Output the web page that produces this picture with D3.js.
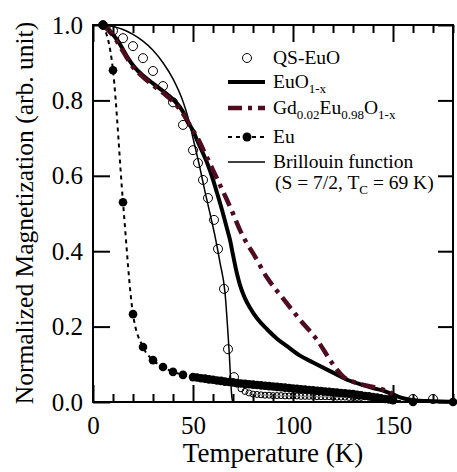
<!DOCTYPE html>
<html>
<head>
  <meta charset="UTF-8">
  <style>
body {
    margin: 0;
    background: #fff;
}
.tick line {
    stroke: #000;
    stroke-width: 2px;
}
  </style>
</head>
<body>

<script src="https://cdn.jsdelivr.net/npm/d3@7"></script>
<script>
  // DATA
  const qsTemp = [5, 10, 15, 20, 25, 30, 35, 40, 45, 50, 52.5, 55, 57.5, 60.5, 62.5, 65.5, 67.5, 70.5,
    72, 74, 76, 78, 80, 82, 84, 86, 88, 90, 92, 94, 96, 98, 100, 102, 104, 106, 108, 110,
    112, 114, 116, 118, 120, 122, 124, 126, 128, 130, 132, 134, 160, 170]
  const qsMag = [1.0, 0.985, 0.965, 0.944, 0.912, 0.878, 0.838, 0.795, 0.735, 0.668, 0.634, 0.589, 0.541, 0.483, 0.406, 0.30, 0.14, 0.066,
    0.048, 0.035, 0.028, 0.024, 0.021, 0.02, 0.019, 0.018, 0.018, 0.017, 0.017, 0.017, 0.016, 0.016, 0.016, 0.016, 0.015, 0.015, 0.015, 0.015,
    0.014, 0.014, 0.014, 0.014, 0.013, 0.013, 0.013, 0.013, 0.012, 0.012, 0.012, 0.012, 0.008, 0.008]

  const euoTemp = [5, 7.5, 10, 12.5, 15, 17.5, 20, 22.5, 25, 30, 35, 40, 45, 47.5, 50, 52, 55, 57, 60, 62, 65, 67,
    68.5, 70, 72, 73.5, 76, 78.5, 82, 87, 92, 97, 103.5, 110, 120, 128, 135, 140, 145, 150, 155, 160, 170, 180]
  const euoMag = [1.0, 0.99, 0.975, 0.957, 0.935, 0.912, 0.893, 0.878, 0.866, 0.845, 0.825, 0.803, 0.77, 0.742, 0.72, 0.695, 0.66, 0.635, 0.59, 0.555, 0.5, 0.46,
    0.43, 0.39, 0.34, 0.31, 0.275, 0.25, 0.222, 0.193, 0.168, 0.148, 0.123, 0.105, 0.078, 0.057, 0.045, 0.037, 0.03, 0.02, 0.01, 0.005, 0.002, 0.0]

  const gdTemp = [5, 10, 15, 20, 25, 30, 35, 40, 45, 50, 52, 56, 60, 64, 67, 70, 73.5, 77, 80, 87, 95, 103.5, 112, 120, 125, 132, 140, 145, 150]
  const gdMag = [1.0, 0.972, 0.93, 0.888, 0.862, 0.84, 0.82, 0.797, 0.765, 0.72, 0.703, 0.66, 0.615, 0.57, 0.536, 0.5, 0.456, 0.42, 0.395, 0.33, 0.275, 0.218, 0.165, 0.1, 0.068, 0.05, 0.04, 0.033, 0.022]

  const euTemp = [5, 10, 15, 20, 25, 30, 35, 40, 45, 50,
    52, 54, 56, 58, 60, 62, 64, 66, 68, 70, 72, 74, 76, 78, 80, 82, 84, 86, 88, 90,
    92, 94, 96, 98, 100, 102, 104, 106, 108, 110, 112, 114, 116, 118, 120, 122, 124, 126, 128, 130,
    132, 134, 136, 138, 140, 142, 144, 146, 148, 150, 160, 180]
  const euMag = [1.0, 0.88, 0.53, 0.233, 0.146, 0.111, 0.093, 0.08, 0.072, 0.066,
    0.065, 0.063, 0.062, 0.06, 0.059, 0.057, 0.056, 0.054, 0.053, 0.052, 0.05, 0.049, 0.048, 0.047, 0.046, 0.045, 0.044, 0.043, 0.042, 0.041,
    0.04, 0.039, 0.038, 0.037, 0.036, 0.035, 0.034, 0.033, 0.032, 0.031, 0.03, 0.029, 0.028, 0.027, 0.026, 0.025, 0.024, 0.023, 0.022, 0.021,
    0.019, 0.018, 0.016, 0.015, 0.013, 0.012, 0.01, 0.008, 0.007, 0.005, 0.0, 0.0]

  const brTemp = [5, 10, 15, 20, 25, 30, 35, 40, 45, 47.5, 50, 53.5, 56, 58.5, 61, 63.5, 66, 68, 69.5, 70, 180]
  const brMag = [1.0, 0.996, 0.988, 0.975, 0.957, 0.933, 0.9, 0.857, 0.797, 0.755, 0.7, 0.62, 0.558, 0.5, 0.44, 0.37, 0.29, 0.14, 0.01, 0.0, 0.0]

  const xTicks = [0, 50, 100, 150]
  const yTicks = [0.0, 0.2, 0.4, 0.6, 0.8, 1.0]

  const gdColor = '#4e0c1e'
  const serif = '"Liberation Serif"'

  const zip = (xs, ys) => xs.map((x, i) => ({t: x, m: ys[i]}))

  function drawChart() {
    const dimensions = {
      width: 457,
      height: 472,
      margin: {top: 25, right: 4, bottom: 70, left: 93},
    }
    dimensions.boundedWidth = dimensions.width - dimensions.margin.left - dimensions.margin.right
    dimensions.boundedHeight = dimensions.height - dimensions.margin.top - dimensions.margin.bottom

    const xScale = d3.scaleLinear().domain([0, 180]).range([0, dimensions.boundedWidth])
    const yScale = d3.scaleLinear().domain([0, 1]).range([dimensions.boundedHeight, 0])

    const svg = d3.select('body').append('svg')
      .attr('width', dimensions.width)
      .attr('height', dimensions.height)

    const bounds = svg.append('g')
      .attr('transform', `translate(${dimensions.margin.left},${dimensions.margin.top})`)

    // axes
    const minor = d3.range(0, 181, 10).filter(d => d % 50 !== 0)
    const clean = g => {
      g.select('.domain').remove()
      g.selectAll('.tick text')
        .style('font-family', serif)
        .style('font-size', '25px')
        .attr('fill', '#000')
    }

    bounds.append('g')
      .attr('transform', `translate(0,${dimensions.boundedHeight})`)
      .call(d3.axisBottom(xScale).tickValues(xTicks).tickSize(-17).tickPadding(14).tickFormat(d3.format('d')))
      .call(clean)
    bounds.append('g')
      .attr('transform', `translate(0,${dimensions.boundedHeight})`)
      .call(d3.axisBottom(xScale).tickValues(minor).tickSize(-8).tickFormat(''))
      .call(clean)
    bounds.append('g')
      .call(d3.axisTop(xScale).tickValues(xTicks).tickSize(-17).tickFormat(''))
      .call(clean)
    bounds.append('g')
      .call(d3.axisTop(xScale).tickValues(minor).tickSize(-8).tickFormat(''))
      .call(clean)
    bounds.append('g')
      .call(d3.axisLeft(yScale).tickValues(yTicks).tickSize(-17).tickPadding(10).tickFormat(d3.format('.1f')))
      .call(clean)
    bounds.append('g')
      .attr('transform', `translate(${dimensions.boundedWidth},0)`)
      .call(d3.axisRight(yScale).tickValues(yTicks).tickSize(-15).tickFormat(''))
      .call(clean)

    const line = d3.line()
      .x(d => xScale(d.t))
      .y(d => yScale(d.m))
      .curve(d3.curveMonotoneX)

    // Brillouin function
    bounds.append('path')
      .attr('d', line(zip(brTemp, brMag)))
      .attr('fill', 'none')
      .attr('stroke', '#000')
      .attr('stroke-width', 1.5)

    // EuO1-x
    bounds.append('path')
      .attr('d', line(zip(euoTemp, euoMag)))
      .attr('fill', 'none')
      .attr('stroke', '#000')
      .attr('stroke-width', 4)

    // Gd doped
    bounds.append('path')
      .attr('d', line(zip(gdTemp, gdMag)))
      .attr('fill', 'none')
      .attr('stroke', gdColor)
      .attr('stroke-width', 4.5)
      .attr('stroke-dasharray', '14,6,4,6')

    // Eu
    const euData = zip(euTemp, euMag)
    bounds.append('path')
      .attr('d', line(euData))
      .attr('fill', 'none')
      .attr('stroke', '#000')
      .attr('stroke-width', 2)
      .attr('stroke-dasharray', '4,4')
    bounds.selectAll('.eu').data(euData).enter().append('circle')
      .attr('cx', d => xScale(d.t))
      .attr('cy', d => yScale(d.m))
      .attr('r', 4.3)
      .attr('fill', '#000')

    // QS-EuO
    bounds.selectAll('.qs').data(zip(qsTemp, qsMag)).enter().append('circle')
      .attr('cx', d => xScale(d.t))
      .attr('cy', d => yScale(d.m))
      .attr('r', d => (d.t > 71 && d.t < 150) ? 3 : 4.5)
      .attr('fill', 'none')
      .attr('stroke', '#000')
      .attr('stroke-width', 1)

    // frame
    bounds.append('rect')
      .attr('width', dimensions.boundedWidth)
      .attr('height', dimensions.boundedHeight)
      .attr('fill', 'none')
      .attr('stroke', '#000')
      .attr('stroke-width', 2)

    // axis titles
    svg.append('text')
      .attr('x', dimensions.margin.left + dimensions.boundedWidth * 0.5)
      .attr('y', 462)
      .attr('text-anchor', 'middle')
      .style('font-family', serif)
      .style('font-size', '27px')
      .text('Temperature (K)')
    svg.append('text')
      .attr('transform', `translate(33,213) rotate(-90)`)
      .attr('text-anchor', 'middle')
      .style('font-family', serif)
      .style('font-size', '25.5px')
      .text('Normalized Magnetization (arb. unit)')

    // legend
    const legend = svg.append('g')
    const lx0 = 228, lx1 = 265, tx = 273
    const legendText = (x, y) => legend.append('text')
      .attr('x', x).attr('y', y)
      .style('font-family', serif)
      .style('font-size', '19.5px')
    const sub = (t, s) => { t.append('tspan').attr('dy', 5).style('font-size', '13px').text(s) }

    legend.append('circle').attr('cx', 247).attr('cy', 58).attr('r', 4.5)
      .attr('fill', 'none').attr('stroke', '#000')
    legendText(tx, 64).text('QS-EuO')

    legend.append('line').attr('x1', lx0).attr('x2', lx1).attr('y1', 82).attr('y2', 82)
      .attr('stroke', '#000').attr('stroke-width', 4)
    const t2 = legendText(tx, 88)
    t2.append('tspan').text('EuO')
    sub(t2, '1-x')

    legend.append('line').attr('x1', lx0).attr('x2', lx1).attr('y1', 108).attr('y2', 108)
      .attr('stroke', gdColor).attr('stroke-width', 4.5).attr('stroke-dasharray', '14,6,4,6')
    const t3 = legendText(tx, 114)
    t3.append('tspan').text('Gd')
    sub(t3, '0.02')
    t3.append('tspan').attr('dy', -5).text('Eu')
    sub(t3, '0.98')
    t3.append('tspan').attr('dy', -5).text('O')
    sub(t3, '1-x')

    legend.append('line').attr('x1', lx0).attr('x2', lx1).attr('y1', 137).attr('y2', 137)
      .attr('stroke', '#000').attr('stroke-width', 2).attr('stroke-dasharray', '4,4')
    legend.append('circle').attr('cx', 247).attr('cy', 137).attr('r', 4.5).attr('fill', '#000')
    legendText(tx, 143).text('Eu')

    legend.append('line').attr('x1', lx0).attr('x2', lx1).attr('y1', 162).attr('y2', 162)
      .attr('stroke', '#000').attr('stroke-width', 1.5)
    legendText(tx, 168).text('Brillouin function')
    const t5 = legendText(275, 189)
    t5.append('tspan').text('(S = 7/2, T')
    sub(t5, 'C')
    t5.append('tspan').attr('dy', -5).text(' = 69 K)')
  }
  drawChart()
</script>

</body>
</html>
